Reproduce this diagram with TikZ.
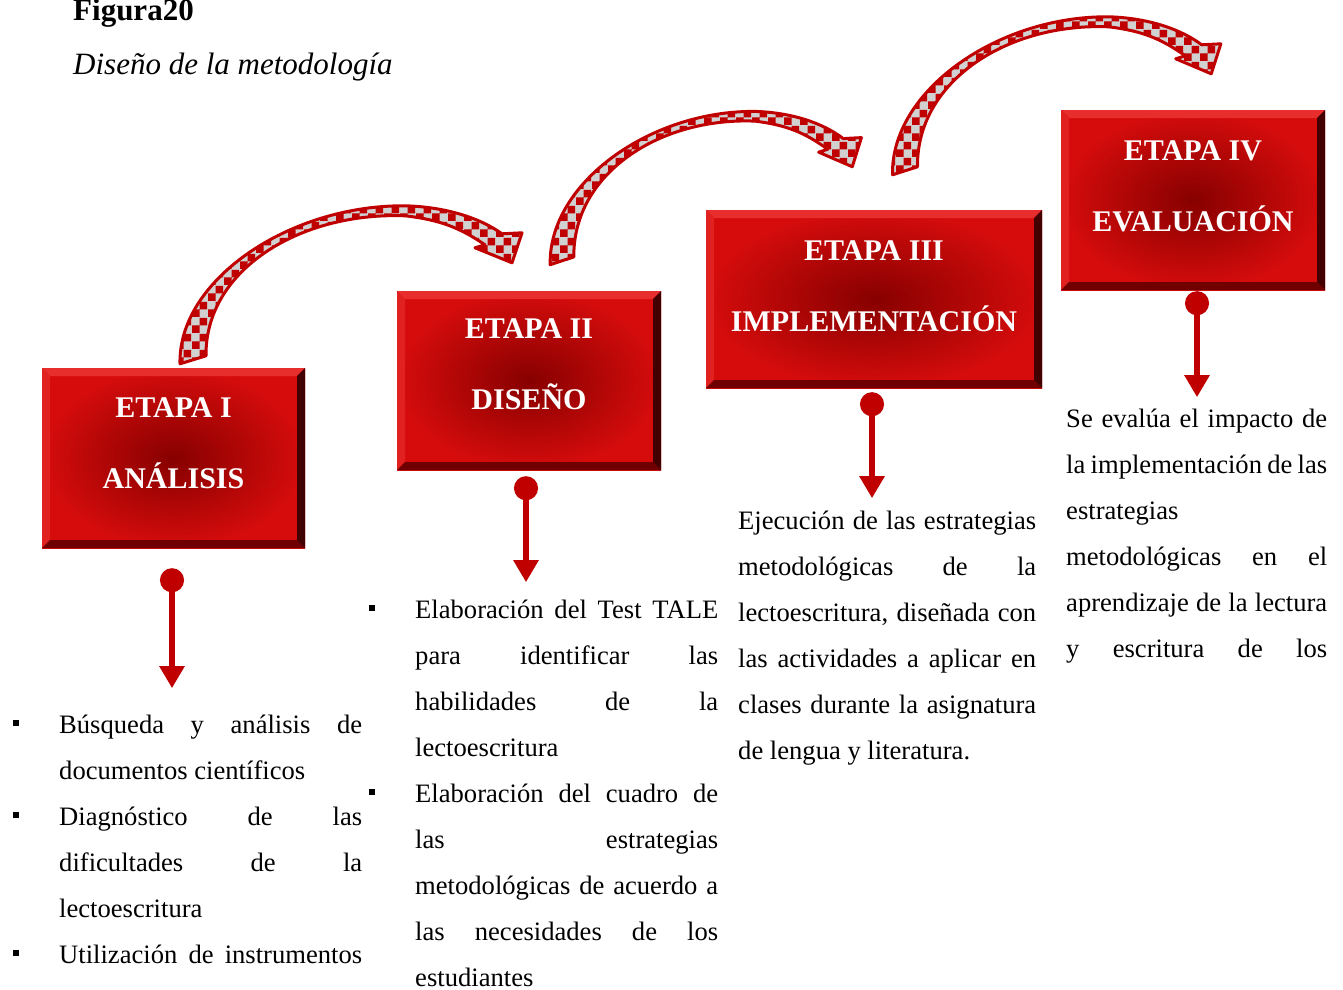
\documentclass[tikz,border=0pt]{standalone}
\usepackage{fontspec}
\setmainfont{Liberation Serif}
\usetikzlibrary{arrows.meta,patterns}

\definecolor{arrowred}{RGB}{192,0,0}
\definecolor{boxdark}{RGB}{135,0,0}
\definecolor{boxred}{RGB}{214,12,12}
\definecolor{bevellight}{RGB}{232,45,45}
\definecolor{beveldark}{RGB}{112,0,0}

% checkerboard fill of the curved arrows
\pgfdeclarepatternformonly{checks}{\pgfqpoint{0pt}{0pt}}{\pgfqpoint{16pt}{16pt}}{\pgfqpoint{16pt}{16pt}}{%
  \pgfpathrectangle{\pgfqpoint{0pt}{0pt}}{\pgfqpoint{8pt}{8pt}}%
  \pgfpathrectangle{\pgfqpoint{8pt}{8pt}}{\pgfqpoint{8pt}{8pt}}%
  \pgfusepath{fill}}

\newcommand{\sqbul}{\noindent\llap{\rule[7pt]{6pt}{6pt}\hspace{40pt}}}

\tikzset{
  etapa/.style={rectangle, inner sep=0pt, shading=radial,
    inner color=boxdark, outer color=boxred,
    path picture={
      \coordinate (nw) at (path picture bounding box.north west);
      \coordinate (se) at (path picture bounding box.south east);
      \fill[bevellight] (nw) -- (nw -| se) -- ([shift={(-8pt,-8pt)}]nw -| se) -- ([shift={(8pt,-8pt)}]nw) -- cycle;
      \fill[bevellight!60!boxred] (nw) -- ([shift={(8pt,-8pt)}]nw) -- ([shift={(8pt,8pt)}]nw |- se) -- (nw |- se) -- cycle;
      \fill[beveldark] (se) -- (nw |- se) -- ([shift={(8pt,8pt)}]nw |- se) -- ([shift={(-8pt,8pt)}]se) -- cycle;
      \fill[beveldark!60!black] (se) -- ([shift={(-8pt,8pt)}]se) -- ([shift={(-8pt,-8pt)}]nw -| se) -- (nw -| se) -- cycle;
    }},
  etapatxt/.style={text=white, align=center, font=\fontsize{30}{71}\selectfont\bfseries},
  link/.style={arrowred, line width=6pt, {Circle[length=24pt]}-{Triangle[width=24pt,length=22pt]}},
  body/.style={anchor=base west, inner sep=0pt, align=justify, font=\fontsize{26.6}{46}\selectfont},
  ribbon/.pic={
    \draw[arrowred, line width=3pt, line join=round, preaction={fill=black!18},
      pattern=checks, pattern color=arrowred]
      (-13,4) .. controls (-15,-80) and (97,-155) .. (212,-154)
      .. controls (252,-153) and (287,-142) .. (309,-126)
      -- (329,-127) -- (319,-97) -- (282,-112) -- (292,-115)
      .. controls (267,-132) and (247,-140) .. (212,-144)
      .. controls (107,-148) and (12,-90) .. (13,-4) -- cycle;
  }
}

\begin{document}
\begin{tikzpicture}[x=1pt,y=-1pt]
\useasboundingbox (0,0) rectangle (1343,989);

% caption
\node[anchor=base west, inner sep=0pt, font=\fontsize{31}{36}\selectfont\bfseries] (fig) at (73,20) {Figura20};
\node[anchor=base west, inner sep=0pt, font=\fontsize{31}{36}\selectfont\itshape] (cap) at (73,74) {Diseño de la metodología};

% stages
\node[etapa, minimum width=263, minimum height=180] (b1) at (173.5,458) {};
\node[etapa, minimum width=264, minimum height=179] (b2) at (529,380.5) {};
\node[etapa, minimum width=336, minimum height=178] (b3) at (874,299) {};
\node[etapa, minimum width=264, minimum height=180] (b4) at (1193,200) {};

\node[etapatxt] (l1) at ([yshift=15pt]b1.center) {ETAPA I\\ANÁLISIS};
\node[etapatxt] (l2) at ([yshift=16pt]b2.center) {ETAPA II\\DISEÑO};
\node[etapatxt] (l3) at ([yshift=13pt]b3.center) {ETAPA III\\IMPLEMENTACIÓN};
\node[etapatxt] (l4) at ([yshift=14pt]b4.center) {ETAPA IV\\EVALUACIÓN};

% curved arrows between stages
\pic at ([xshift=19.5pt,yshift=8pt]b1.north) {ribbon};
\pic[xscale=0.91, yscale=0.97] at ([xshift=33pt,yshift=30pt]b2.north) {ribbon};
\pic[xscale=0.96] at ([xshift=31pt,yshift=39pt]b3.north) {ribbon};

% descriptions
\node[body, text width=303] (t1) at (59,733) {%
\sqbul Búsqueda y análisis de\linebreak documentos científicos\par
\sqbul Diagnóstico de las\linebreak dificultades de la\linebreak lectoescritura\par
\sqbul Utilización de instrumentos{\parfillskip=0pt\par}};

\node[body, text width=303] (t2) at (415,618) {%
\sqbul Elaboración del Test TALE\linebreak para identificar las\linebreak habilidades de la\linebreak lectoescritura\par
\sqbul Elaboración del cuadro de\linebreak las estrategias\linebreak metodológicas de acuerdo a\linebreak las necesidades de los\linebreak estudiantes\par};

\node[body, text width=298] (t3) at (738,529) {%
Ejecución de las estrategias\linebreak metodológicas de la\linebreak lectoescritura, diseñada con\linebreak las actividades a aplicar en\linebreak clases durante la asignatura\linebreak de lengua y literatura.\par};

\node[body, text width=261] (t4) at (1066,427) {%
Se evalúa el impacto de\linebreak la implementación de las\linebreak estrategias\\ metodológicas en el\linebreak aprendizaje de la lectura\linebreak y escritura de los{\parfillskip=0pt\par}};

% stage to description
\coordinate (a1) at ([xshift=-1.5pt,yshift=-140pt]b1.south);
\coordinate (a2) at ([xshift=-3pt,yshift=-112pt]b2.south);
\coordinate (a3) at ([xshift=-2pt,yshift=-110pt]b3.south);
\coordinate (a4) at ([xshift=4pt,yshift=-107pt]b4.south);
\draw[link] ([xshift=-1.5pt,yshift=-20pt]b1.south) -- (a1);
\draw[link] ([xshift=-3pt,yshift=-6pt]b2.south) -- (a2);
\draw[link] ([xshift=-2pt,yshift=-4pt]b3.south) -- (a3);
\draw[link] ([xshift=4pt,yshift=-1pt]b4.south) -- (a4);
\end{tikzpicture}
\end{document}
